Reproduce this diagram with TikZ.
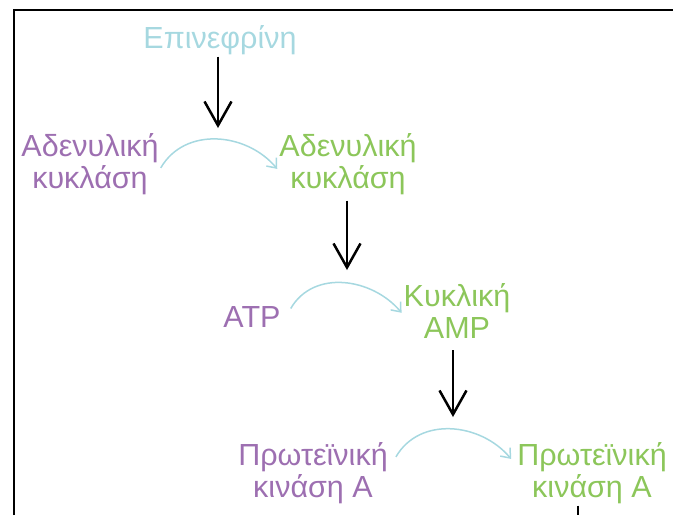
\documentclass[tikz,border=0pt]{standalone}
\usepackage{fontspec}
\setmainfont{Liberation Sans}
\usetikzlibrary{arrows.meta}
\definecolor{inactive}{HTML}{9D6FB1}
\definecolor{active}{HTML}{8CC65A}
\definecolor{hormone}{HTML}{A6D8E0}

\begin{document}
\begin{tikzpicture}[x=1pt, y=1pt,
    txt/.style={font=\fontsize{30.5}{31.5}\selectfont, align=center, inner sep=2pt, anchor=base},
    cascade/.style={line width=2.5pt, -{Straight Barb[length=24pt, width=27pt]}},
    convert/.style={hormone, line width=1.5pt, -{Straight Barb[length=8pt, width=13pt]}}]
    \useasboundingbox (0,0) rectangle (673,-515);
    \draw[line width=2pt] (14,-515) -- (14,-10) -- (673,-10);

    \node[txt, text=hormone] (epi) at (220,-48) {Επινεφρίνη};
    \node[txt, text=inactive] (ac1) at (90,-188) {Αδενυλική\\κυκλάση};
    \node[txt, text=active] (ac2) at (348,-188) {Αδενυλική\\κυκλάση};
    \node[txt, text=inactive] (atp) at (252,-327) {ATP};
    \node[txt, text=active] (camp) at (457,-338) {Κυκλική\\AMP};
    \node[txt, text=inactive] (pka1) at (313,-497) {Πρωτεϊνική\\κινάση A};
    \node[txt, text=active] (pka2) at (592,-497) {Πρωτεϊνική\\κινάση A};

    \coordinate (a1) at (218,-128);
    \coordinate (a2) at (347,-270);
    \coordinate (a3) at (453,-417);
    \coordinate (a4) at (578,-515);

    \draw[cascade] (epi.south -| a1) -- (a1);
    \draw[cascade, shorten <=4pt] (ac2.south -| a2) -- (a2);
    \draw[cascade, shorten <=10pt] (camp.south -| a3) -- (a3);
    \draw[line width=2.5pt] (pka2.south -| a4) -- (a4);

    \draw[convert] ([yshift=-4pt]ac1.east) to[out=60, in=130, looseness=1.05] ([yshift=-5pt]ac2.west);
    \draw[convert] ([xshift=8pt, yshift=8pt]atp.east) to[out=60, in=130, looseness=1.05] ([yshift=-2pt]camp.west);
    \draw[convert] ([xshift=6pt, yshift=16pt]pka1.east) to[out=60, in=130, looseness=1.05] ([xshift=-4pt, yshift=14pt]pka2.west);
\end{tikzpicture}
\end{document}
